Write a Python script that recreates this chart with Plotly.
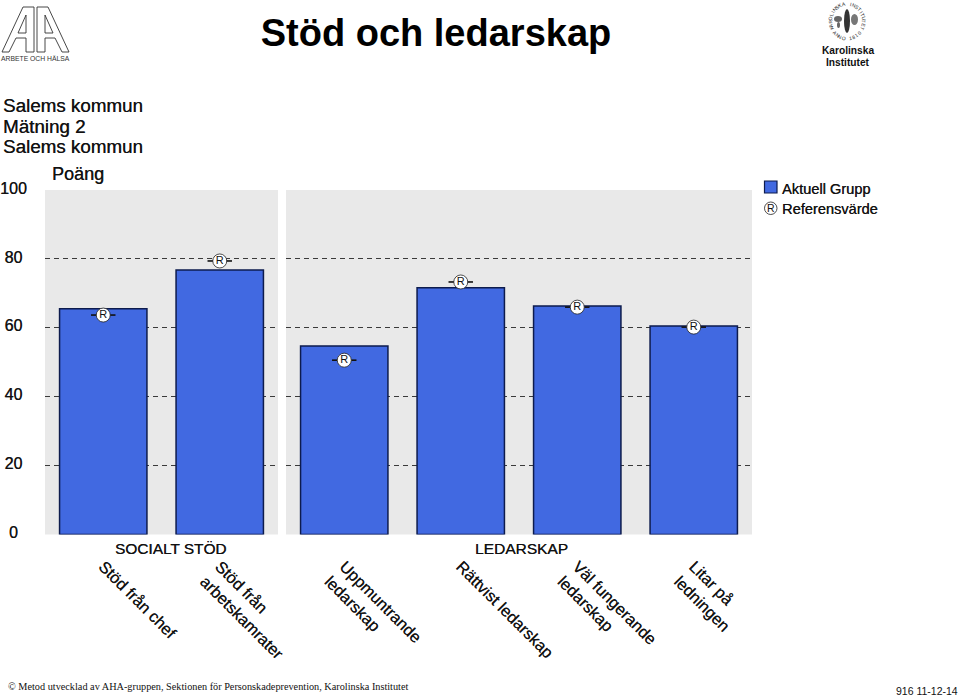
import math
import plotly.graph_objects as go

# --- data ---
social_cats = ["Stöd från chef", "Stöd från<br>arbetskamrater"]
lead_cats = ["Uppmuntrande<br>ledarskap", "Rättvist ledarskap", "Väl fungerande<br>ledarskap", "Litar på<br>ledningen"]
social_vals = [65.5, 76.8]
lead_vals = [54.7, 71.6, 66.3, 60.5]
social_ref = [63.7, 79.4]
lead_ref = [50.6, 73.3, 66.0, 60.2]
y_ticks = [0, 20, 40, 60, 80, 100]
y_labels = ["0\u00a0\u00a0", "20\u00a0", "40\u00a0", "60\u00a0", "80\u00a0", "100"]

W, H = 960, 697
BLUE = "#4169e1"
EDGE = "#0d1b4d"
GREY = "#e9e9e9"
SANS = "Liberation Sans, Arial, sans-serif"
SERIF = "Liberation Serif, serif"
INK = "#111111"
HEAVY = "0.35px 0 0.2px rgba(0,0,0,0.75)"

def py(y): return 1 - y / H
def px(x): return x / W

fig = go.Figure()

def panel(cats, vals, refs, xa, ya):
    pos = list(range(len(cats)))
    fig.add_trace(go.Bar(x=pos, y=vals, width=0.75, xaxis=xa, yaxis=ya, showlegend=False, cliponaxis=False,
                         marker=dict(color=BLUE, line=dict(color=EDGE, width=1.5))))
    fig.add_trace(go.Scatter(x=pos, y=refs, xaxis=xa, yaxis=ya, mode="markers+text", showlegend=False,
                             text=["R"] * len(cats), textposition="middle center",
                             textfont=dict(family=SANS, size=11, color=INK),
                             marker=dict(symbol="circle", size=14, color="white", line=dict(color="#222222", width=0.8)),
                             error_x=dict(type="constant", value=0.105, color="#111111", thickness=1.6, width=0)))

panel(social_cats, social_vals, social_ref, "x", "y")
panel(lead_cats, lead_vals, lead_ref, "x2", "y2")
# empty trace that keeps the full-page annotation axes alive
fig.add_trace(go.Scatter(x=[], y=[], xaxis="x3", yaxis="y3", showlegend=False, hoverinfo="skip"))

ydom = [py(534.5), py(190)]
xcommon = dict(type="linear", tickangle=45, showgrid=False, zeroline=False, showline=False,
               ticks="outside", ticklen=15, tickcolor="rgba(0,0,0,0)",
               tickfont=dict(family=SANS, size=16.3, color=INK, shadow=HEAVY), automargin=False)
ycommon = dict(range=[0, 100], domain=ydom, tickvals=y_ticks, showgrid=True, griddash="5px,4px",
               gridcolor="#3a3a3a", gridwidth=1.2, zeroline=False, showline=False)
hidden = dict(visible=False, fixedrange=True, showgrid=False, zeroline=False)

fig.update_layout(
    width=W, height=H, autosize=False, margin=dict(l=0, r=0, t=0, b=0, pad=0, autoexpand=False),
    paper_bgcolor="white", plot_bgcolor="rgba(0,0,0,0)", bargap=0.25,
    title=dict(text="Stöd och ledarskap", x=436 / W, xanchor="center", y=py(33), yanchor="middle",
               font=dict(family=SANS, size=38, color="#000000", weight="bold")),
    xaxis=dict(xcommon, domain=[px(45), px(278)], range=[-0.5, 1.5], anchor="y",
               tickvals=list(range(len(social_cats))), ticktext=social_cats),
    xaxis2=dict(xcommon, domain=[px(286), px(752)], range=[-0.5, 3.5], anchor="y2",
                tickvals=list(range(len(lead_cats))), ticktext=lead_cats),
    yaxis=dict(ycommon, anchor="x", ticktext=y_labels, ticks="outside", ticklen=14, tickcolor="rgba(0,0,0,0)",
               ticklabelshift=-2, tickfont=dict(family=SANS, size=16, color=INK, shadow=HEAVY)),
    yaxis2=dict(ycommon, anchor="x2", showticklabels=False),
    xaxis3=dict(hidden, domain=[0, 1], range=[0, W], anchor="y3"),
    yaxis3=dict(hidden, domain=[0, 1], range=[H, 0], anchor="x3"),
)

# grey panels behind gridlines
for xr, yr in [("x domain", "y domain"), ("x2 domain", "y2 domain")]:
    fig.add_shape(type="rect", xref=xr, yref=yr, x0=0, x1=1, y0=0, y1=1, fillcolor=GREY,
                  line=dict(width=0), layer="below")

def note(text, x, y, size, anchor="left", family=SANS, color=INK, angle=0, weight=None, heavy=True):
    font = dict(family=family, size=size, color=color)
    if weight:
        font["weight"] = weight
    if heavy:
        font["shadow"] = HEAVY
    fig.add_annotation(text=text, xref="x3", yref="y3", x=x, y=y, xanchor=anchor, yanchor="middle",
                       showarrow=False, font=font, textangle=angle)

# header block
for t, y in [("Salems kommun", 105.5), ("Mätning 2", 126), ("Salems kommun", 146.5)]:
    note(t, 1, y, 18.8)
note("Poäng", 50, 174, 18)
note("SOCIALT STÖD", 170, 548, 15.4, "center")
note("LEDARSKAP", 521.5, 548, 15.5, "center")
note("© Metod utvecklad av AHA-gruppen, Sektionen för Personskadeprevention, Karolinska Institutet", 6, 686, 10.25,
     family=SERIF, heavy=False)
note("916 11-12-14", 960, 691, 10.5, "right", heavy=False)

# legend
fig.add_shape(type="rect", xref="x3", yref="y3", x0=764.5, x1=777, y0=181, y1=193,
              fillcolor=BLUE, line=dict(color=EDGE, width=1.2))
fig.add_shape(type="circle", xref="x3", yref="y3", x0=764.5, x1=777, y0=202, y1=214.5,
              fillcolor="white", line=dict(color="#222222", width=0.8))
note("R", 770.8, 208.3, 10.5, "center", heavy=False)
note("Aktuell Grupp", 780, 189, 14.6)
note("Referensvärde", 780, 209, 14.6)

# AHA logo
aha = ["M2 52 L23 7 L34 7 L34 52 L26 52 L26 38 L16 38 L9 52 Z", "M18 33 L26 15 L26 33 Z",
       "M69 52 L48 7 L37 7 L37 52 L45 52 L45 38 L55 38 L62 52 Z", "M53 33 L45 15 L45 33 Z"]
for p in aha:
    fig.add_shape(type="path", xref="x3", yref="y3", path=p, line=dict(color="#333333", width=0.9))
note("ARBETE OCH HÄLSA", 35.5, 58, 6.8, "center", color="#333333", heavy=False)

# Karolinska seal
cx, cy, r = 847, 21, 17
top_ring = "KAROLINSKA INSTITUTET"
bottom_ring = "ANNO 1810"
for i, ch in enumerate(top_ring):
    deg = -205 + 230 * i / (len(top_ring) - 1)
    a = math.radians(deg)
    note(ch, cx + r * math.cos(a), cy + r * math.sin(a), 5, "center", color="#222222", angle=deg + 90, heavy=False)
for i, ch in enumerate(bottom_ring):
    deg = 135 - 90 * i / (len(bottom_ring) - 1)
    a = math.radians(deg)
    note(ch, cx + r * math.cos(a), cy + r * math.sin(a), 5, "center", color="#222222", angle=deg - 90, heavy=False)
for x0, x1, y0, y1, c in [(844, 850, 9, 33, "#333333"), (834, 842, 16, 22, "#666666"), (851, 858, 14, 25, "#777777"),
                          (837, 840, 22, 28, "#666666")]:
    fig.add_shape(type="circle", xref="x3", yref="y3", x0=x0, x1=x1, y0=y0, y1=y1,
                  fillcolor=c, line=dict(width=0))
note("Karolinska", 847.5, 50.5, 10.2, "center", weight="bold", heavy=False)
note("Institutet", 847.5, 62, 10.2, "center", weight="bold", heavy=False)

fig.write_html("out.html", config={"displayModeBar": False},
               post_script="document.body.style.margin='0';")
